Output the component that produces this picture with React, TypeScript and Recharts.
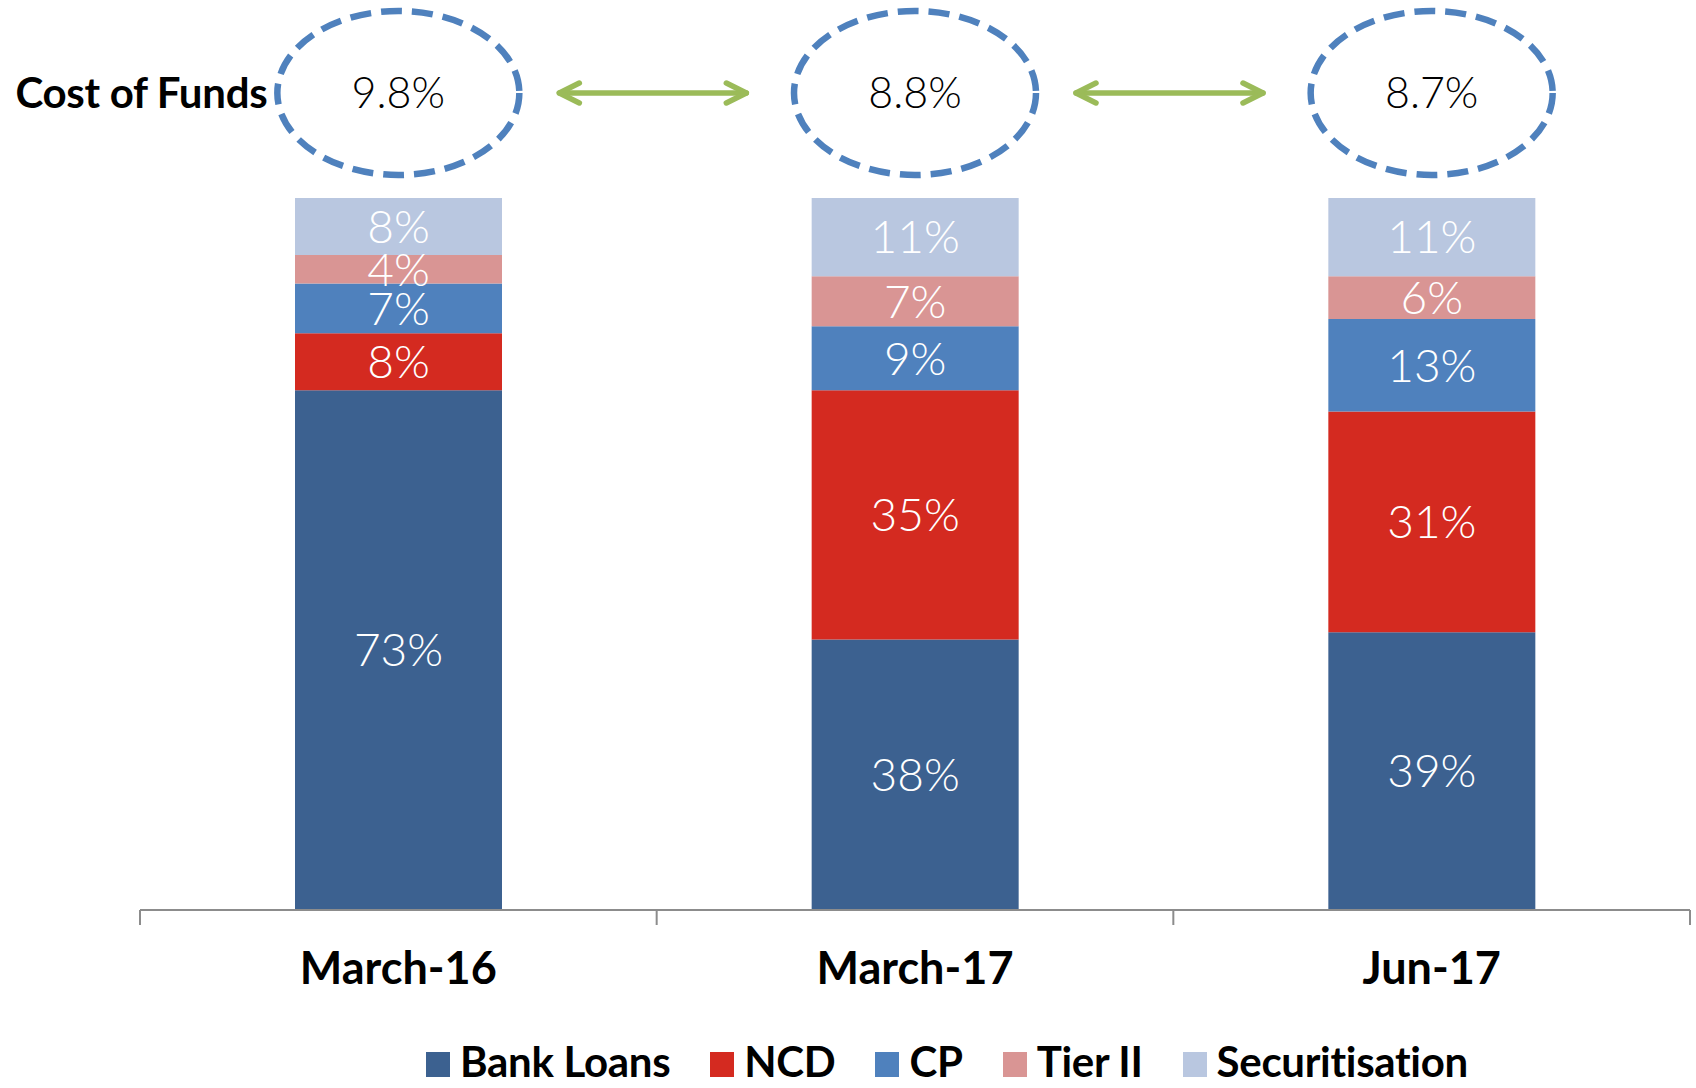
import { BarChart, Bar, XAxis, YAxis, LabelList, Legend, ReferenceDot } from "recharts"

const categories = ["March-16", "March-17", "Jun-17"]
const bankLoans = [73, 38, 39]
const ncd = [8, 35, 31]
const cp = [7, 9, 13]
const tierII = [4, 7, 6]
const securitisation = [8, 11, 11]
const costOfFunds = [9.8, 8.8, 8.7]

const series = [
  { key: "bankLoans", name: "Bank Loans", values: bankLoans, color: "#3C6190" },
  { key: "ncd", name: "NCD", values: ncd, color: "#D42A20" },
  { key: "cp", name: "CP", values: cp, color: "#4F81BD" },
  { key: "tierII", name: "Tier II", values: tierII, color: "#D99594" },
  { key: "securitisation", name: "Securitisation", values: securitisation, color: "#B9C7E0" },
]

const data = categories.map((name, i) => {
  const row: Record<string, string | number> = { name }
  series.forEach((s) => (row[s.key] = s.values[i]))
  return row
})

const W = 1696
const H = 1088
const MARGIN = { top: 198, right: 6, bottom: 118, left: 140 }
const BAND = (W - MARGIN.left - MARGIN.right) / categories.length

const THIN = "'Lato', 'DejaVu Sans', sans-serif"
const BOLD = "'Lato', 'Liberation Sans', sans-serif"

function CategoryTick(props: any) {
  const { x, y, payload, index } = props
  const half = BAND / 2
  return (
    <g>
      <line x1={x - half} x2={x - half} y1={y} y2={y + 15} stroke="#8c8c8c" strokeWidth={2} />
      {index === categories.length - 1 && (
        <line x1={x + half} x2={x + half} y1={y} y2={y + 15} stroke="#8c8c8c" strokeWidth={2} />
      )}
      <text x={x} y={y + 74} textAnchor="middle" fontFamily={BOLD} fontWeight={700} fontSize={45} fill="#000">
        {payload.value}
      </text>
    </g>
  )
}

function Arrow({ x1, x2, y }: { x1: number; x2: number; y: number }) {
  const c = "#9BBB59"
  return (
    <g stroke={c} strokeWidth={5.5} strokeLinecap="round" strokeLinejoin="round" fill="none">
      <line x1={x1} x2={x2} y1={y} y2={y} />
      <polyline points={`${x1 + 20},${y - 10} ${x1},${y} ${x1 + 20},${y + 10}`} />
      <polyline points={`${x2 - 20},${y - 10} ${x2},${y} ${x2 - 20},${y + 10}`} />
    </g>
  )
}

function CostBubble({ cx, cy, index }: { cx: number; cy: number; index: number }) {
  const y = cy - 105
  return (
    <g>
      {index === 0 && (
        <text x={cx - 131} y={y + 15} textAnchor="end" fontFamily={BOLD} fontWeight={700} fontSize={42} letterSpacing={-0.3} fill="#000">
          Cost of Funds
        </text>
      )}
      <ellipse cx={cx} cy={y} rx={121} ry={82} fill="none" stroke="#4F81BD" strokeWidth={6.5} strokeDasharray="21 10" />
      <text x={cx} y={y + 15} textAnchor="middle" fontFamily={THIN} fontWeight={300} fontSize={43} fill="#000">
        {costOfFunds[index].toFixed(1)}%
      </text>
      {index < categories.length - 1 && <Arrow x1={cx + 161} x2={cx + 348} y={y} />}
    </g>
  )
}

function LegendContent() {
  return (
    <div style={{ display: "flex", alignItems: "center", paddingLeft: 426 }}>
      {series.map((s) => (
        <div key={s.key} style={{ display: "flex", alignItems: "center", marginRight: 40 }}>
          <span style={{ width: 24, height: 25, background: s.color, display: "inline-block", marginRight: 10, marginTop: 6 }} />
          <span style={{ fontFamily: BOLD, fontWeight: 700, fontSize: 42, letterSpacing: -0.3, color: "#000", lineHeight: "46px" }}>
            {s.name}
          </span>
        </div>
      ))}
    </div>
  )
}

export default function App() {
  return (
    <div style={{ position: "absolute", left: 0, top: 0, background: "#fff" }}>
      <BarChart width={W} height={H} data={data} margin={MARGIN} barCategoryGap="30%">
        <XAxis
          dataKey="name"
          height={60}
          tickSize={0}
          tickMargin={0}
          axisLine={{ stroke: "#8c8c8c", strokeWidth: 2 }}
          tickLine={false}
          tick={<CategoryTick />}
          interval={0}
        />
        <YAxis hide domain={[0, 100]} />
        {series.map((s) => (
          <Bar key={s.key} dataKey={s.key} name={s.name} stackId="a" fill={s.color} isAnimationActive={false}>
            <LabelList
              dataKey={s.key}
              position="center"
              formatter={(v: any) => `${v}%`}
              fill="#fff"
              fontSize={46}
              fontFamily={THIN}
              fontWeight={300}
            />
          </Bar>
        ))}
        {categories.map((c, i) => (
          <ReferenceDot
            key={c}
            x={c}
            y={100}
            r={0}
            ifOverflow="visible"
            shape={(p: any) => <CostBubble cx={p.cx} cy={p.cy} index={i} />}
          />
        ))}
        <Legend
          verticalAlign="middle"
          layout="horizontal"
          content={<LegendContent />}
          wrapperStyle={{ top: 1038, left: 0, width: W }}
        />
      </BarChart>
    </div>
  )
}
